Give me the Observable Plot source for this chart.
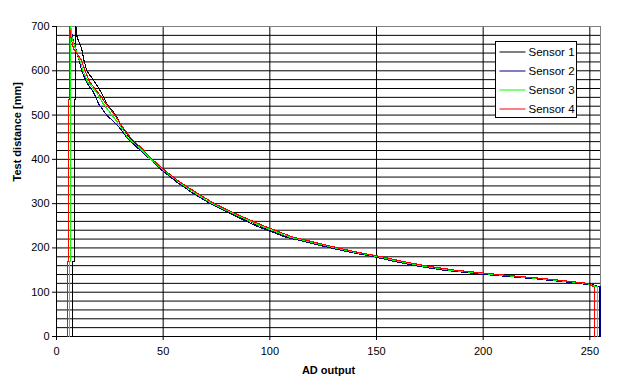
<!DOCTYPE html>
<html>
<head>
<meta charset="utf-8">
<script src="https://cdn.jsdelivr.net/npm/d3@7"></script>
<script src="https://cdn.jsdelivr.net/npm/@observablehq/plot@0.6"></script>
<style>
  html, body { margin: 0; padding: 0; background: white; }
  #chart { position: relative; width: 627px; height: 391px; }
</style>
</head>
<body>
<div id="chart"></div>
<script>
// ---- Data ----
const seriesNames = ["Sensor 1", "Sensor 2", "Sensor 3", "Sensor 4"];
const seriesColors = ["#000000", "#000080", "#00ff00", "#ff0000"];

// Left vertical segments (output stuck at low value), distance in mm
const leftDist = [0, 170, 170, 535, 535, 700];
const leftS1 = [7.7, 7.7, 8.3, 8.3, 9.1, 9.1];
const leftS2 = [6.25, 6.25, 6.7, 6.7, 6.7, 6.7];
const leftS3 = [6.25, 6.25, 6.7, 6.7, 6.7, 6.7];
const leftS4 = [5.2, 5.2, 5.7, 5.7, 6.1, 6.1];

// Main response curve, distance in mm
const curveDist = [700, 675, 650, 625, 600, 575, 550, 525, 500, 475, 450, 425, 400, 375, 350, 325, 300, 275, 250, 225, 200, 190, 180, 170, 160, 150, 140, 130, 120, 116, 112, 0];
const curveS1 = [9.1, 9.7, 11.8, 12.8, 14.2, 17.9, 21.1, 23.7, 27.7, 30.5, 34, 39, 44, 50, 57, 64.5, 73, 83.5, 95, 108, 130, 139, 150, 159, 169, 182, 204, 227, 247, 252, 254.5, 254.5];
const curveS2 = [6.7, 7.5, 9, 10.5, 11.8, 14, 17.5, 19.8, 23.5, 29, 32.9, 38.2, 44, 49.5, 56, 63.5, 72, 82.5, 93.5, 107, 128.5, 138, 149, 158, 168, 181, 201, 225, 245, 251, 255, 255];
const curveS3 = [6.7, 7.3, 8.8, 10.8, 12.5, 14.6, 18.9, 22, 26, 30, 33.2, 39, 44.2, 50.3, 57, 64.5, 73, 84, 95.5, 109, 130.5, 140, 151, 160, 170.5, 184, 205, 228, 248, 251, 253.5, 253.8];
const curveS4 = [6.1, 6.8, 8, 11.6, 13.4, 15.5, 19.6, 23.3, 27.3, 30.7, 34.5, 39.9, 44.9, 50.8, 57.5, 65.5, 74, 85, 97, 110.5, 132, 141.5, 152.5, 162, 172.5, 186.5, 207, 230, 249, 250.5, 252, 252.3];

const xTicks = [0, 50, 100, 150, 200, 250];
const yTicks = [0, 100, 200, 300, 400, 500, 600, 700];
const yGrid = d3.range(0, 701, 20);
const xGrid = [50, 100, 150, 200, 250];

// ---- Build table ----
const leftVals = [leftS1, leftS2, leftS3, leftS4];
const curveVals = [curveS1, curveS2, curveS3, curveS4];
const rows = [];
seriesNames.forEach((name, i) => {
  leftDist.forEach((d, j) => rows.push({series: name, ad: leftVals[i][j], dist: d}));
  curveDist.forEach((d, j) => rows.push({series: name, ad: curveVals[i][j], dist: d}));
});

const font = "'Liberation Sans', Arial, sans-serif";

const chart = Plot.plot({
  width: 627,
  height: 391,
  marginLeft: 56,
  marginRight: 27,
  marginTop: 26,
  marginBottom: 55,
  style: {fontFamily: font, fontSize: "11px", background: "white", color: "black"},
  x: {domain: [0, 255]},
  y: {domain: [0, 700]},
  marks: [
    Plot.ruleY(yGrid, {stroke: "black", strokeWidth: 1}),
    Plot.ruleX(xGrid, {stroke: "black", strokeWidth: 1}),
    Plot.ruleY([700], {stroke: "#808080"}),
    Plot.ruleX([255], {stroke: "#808080"}),
    Plot.ruleX([0], {stroke: "black"}),
    Plot.ruleY([0], {stroke: "black"}),
    ...seriesNames.map((name, i) =>
      Plot.line(rows.filter(r => r.series === name), {
        x: "ad", y: "dist", stroke: seriesColors[i], strokeWidth: 1.1,
        curve: "linear", shapeRendering: "crispEdges"
      })
    ),
    Plot.axisX({ticks: xTicks, tickSize: 4, tickPadding: 7, label: null, fontSize: 11}),
    Plot.axisY({ticks: yTicks, tickSize: 4, tickPadding: 3, label: null, fontSize: 11}),
    Plot.text(["AD output"], {frameAnchor: "bottom", dy: 37, fontWeight: "bold", fontSize: 11}),
    Plot.text(["Test distance [mm]"], {frameAnchor: "left", dx: -39, rotate: -90, fontWeight: "bold", fontSize: 11})
  ]
});

document.getElementById("chart").appendChild(chart);

// ---- Legend ----
const svg = d3.select(chart);
const lg = svg.append("g").attr("transform", "translate(495.5,41.5)");
lg.append("rect").attr("width", 81).attr("height", 76).attr("fill", "white").attr("stroke", "black");
seriesNames.forEach((name, i) => {
  const y = 10.5 + i * 19;
  lg.append("line").attr("x1", 4).attr("x2", 30).attr("y1", y).attr("y2", y)
    .attr("stroke", seriesColors[i]).attr("stroke-width", 1);
  lg.append("text").attr("x", 33).attr("y", y).attr("dy", "0.35em")
    .attr("text-anchor", "start")
    .attr("font-family", font).attr("font-size", 11.5).attr("fill", "black").text(name);
});
</script>
</body>
</html>
